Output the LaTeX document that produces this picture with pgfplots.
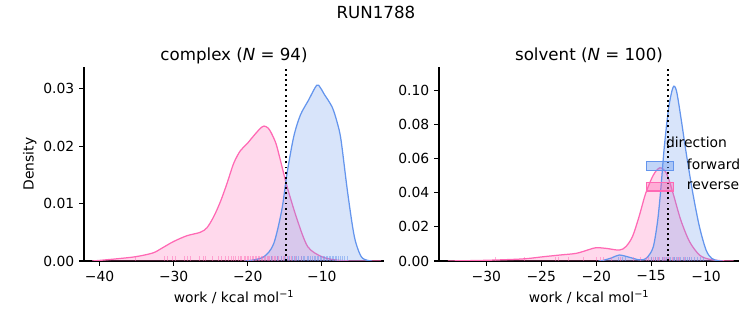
\documentclass[border=0pt]{standalone}
\usepackage{fontspec}
\setmainfont{DejaVu Sans}
\usepackage{pgfplots}
\pgfplotsset{compat=1.18}
\definecolor{fwd}{HTML}{6495ED}
\definecolor{rev}{HTML}{FF69B4}
\pgfplotsset{
  kdeax/.style={
    scale only axis, width=216pt, height=139.7pt,
    axis x line*=bottom, axis y line*=left,
    axis line style={-, line width=0.8pt, black},
    tick align=outside, major tick length=3.5pt,
    every tick/.style={black, line width=0.8pt},
    tick label style={font=\fontsize{10}{12}\selectfont},
    label style={font=\fontsize{10}{12}\selectfont},
    title style={font=\fontsize{12}{14}\selectfont, at={(0.5,1)}, anchor=base, yshift=-1pt},
    xlabel={work / kcal mol\textsuperscript{−1}},
    ymin=0,
  },
  rugrev/.style={ycomb, rev, line width=0.7pt, opacity=0.5, forget plot, mark=none},
  rugfwd/.style={ycomb, fwd, line width=0.7pt, opacity=0.5, forget plot, mark=none},
}
\begin{document}
\begin{tikzpicture}
\useasboundingbox (0,0) rectangle (542.16pt,234pt);
\node[font=\fontsize{12}{14}\selectfont, anchor=base] at (270.7pt,220.5pt) {RUN1788};

% ---------------- complex ----------------
\begin{axis}[kdeax, at={(60.5pt,46.1pt)}, anchor=south west,
  xmin=-42.1, xmax=-1.6, ymax=0.0338,
  xtick={-40,-30,-20,-10}, xticklabels={−40,−30,−20,−10},
  ytick={0,0.01,0.02,0.03}, yticklabels={0.00,0.01,0.02,0.03},
  scaled y ticks=false,
  ylabel={Density}, ylabel shift=-2pt,
  title={complex (\textit{N} = 94)},
]
\addplot[draw=none, fill=rev, fill opacity=0.25, smooth, forget plot] coordinates {
(-41,0) (-40,0.0001) (-37.5,0.0004) (-35.1,0.00075) (-32.8,0.0014) (-31.5,0.0023) (-30,0.0034) (-28.2,0.0044) (-26.4,0.005) (-25.5,0.0058) (-24.6,0.0077) (-23.7,0.0103) (-22.8,0.0135) (-21.9,0.0170) (-21.0,0.0192) (-20.1,0.0204) (-19.2,0.0218) (-18.3,0.0231) (-17.8,0.0235) (-17.3,0.0232) (-16.9,0.0225) (-16.2,0.0205) (-15.6,0.0176) (-14.7,0.0130) (-13.3,0.0071) (-11.9,0.0025) (-10.1,0.0008) (-8.3,0.0002) (-6,0) (-2,0)};
\addplot[rev, line width=0.9pt, smooth, forget plot] coordinates {
(-41,0) (-40,0.0001) (-37.5,0.0004) (-35.1,0.00075) (-32.8,0.0014) (-31.5,0.0023) (-30,0.0034) (-28.2,0.0044) (-26.4,0.005) (-25.5,0.0058) (-24.6,0.0077) (-23.7,0.0103) (-22.8,0.0135) (-21.9,0.0170) (-21.0,0.0192) (-20.1,0.0204) (-19.2,0.0218) (-18.3,0.0231) (-17.8,0.0235) (-17.3,0.0232) (-16.9,0.0225) (-16.2,0.0205) (-15.6,0.0176) (-14.7,0.0130) (-13.3,0.0071) (-11.9,0.0025) (-10.1,0.0008) (-8.3,0.0002) (-6,0) (-2,0)};
\addplot[draw=none, fill=fwd, fill opacity=0.25, smooth, forget plot] coordinates {
(-20.5,0) (-19.6,0.0001) (-17.8,0.00075) (-16.5,0.003) (-15.4,0.0089) (-14.7,0.0152) (-13.8,0.0216) (-12.9,0.0254) (-11.8,0.028) (-10.7,0.0306) (-10.2,0.0302) (-9.7,0.0291) (-8.6,0.0268) (-7.9,0.024) (-7.4,0.021) (-6.5,0.0118) (-5.6,0.0042) (-4.7,0.0008) (-3.8,0.0001) (-3.2,0)};
\addplot[fwd, line width=0.9pt, smooth, forget plot] coordinates {
(-20.5,0) (-19.6,0.0001) (-17.8,0.00075) (-16.5,0.003) (-15.4,0.0089) (-14.7,0.0152) (-13.8,0.0216) (-12.9,0.0254) (-11.8,0.028) (-10.7,0.0306) (-10.2,0.0302) (-9.7,0.0291) (-8.6,0.0268) (-7.9,0.024) (-7.4,0.021) (-6.5,0.0118) (-5.6,0.0042) (-4.7,0.0008) (-3.8,0.0001) (-3.2,0)};
\addplot[rugrev] coordinates {
(-35.1,0.0008) (-31.3,0.0008) (-30.8,0.0008) (-30.1,0.0008) (-29.7,0.0008) (-28.6,0.0008) (-28.2,0.0008) (-27.7,0.0008) (-26.5,0.0008) (-26.0,0.0008) (-25.7,0.0008) (-24.8,0.0008) (-23.9,0.0008) (-23.5,0.0008) (-23.0,0.0008) (-22.6,0.0008) (-22.2,0.0008) (-21.9,0.0008) (-21.6,0.0008) (-21.3,0.0008) (-21.0,0.0008) (-20.8,0.0008) (-20.5,0.0008) (-20.3,0.0008) (-20.1,0.0008) (-19.9,0.0008) (-19.6,0.0008) (-19.4,0.0008) (-19.2,0.0008) (-19.0,0.0008) (-18.8,0.0008) (-18.6,0.0008) (-18.4,0.0008) (-18.2,0.0008) (-18.0,0.0008) (-17.8,0.0008) (-17.6,0.0008) (-17.4,0.0008) (-17.2,0.0008) (-17.0,0.0008) (-16.8,0.0008) (-16.6,0.0008) (-16.4,0.0008) (-16.2,0.0008) (-16.0,0.0008) (-15.8,0.0008) (-15.5,0.0008) (-15.2,0.0008) (-14.9,0.0008) (-14.5,0.0008) (-14.1,0.0008) (-13.6,0.0008) (-12.8,0.0008)};
\addplot[rugfwd] coordinates {
(-16.8,0.0008) (-16.0,0.0008) (-15.5,0.0008) (-15.0,0.0008) (-14.6,0.0008) (-14.3,0.0008) (-14.0,0.0008) (-13.7,0.0008) (-13.4,0.0008) (-13.1,0.0008) (-12.8,0.0008) (-12.5,0.0008) (-12.3,0.0008) (-12.0,0.0008) (-11.8,0.0008) (-11.5,0.0008) (-11.3,0.0008) (-11.0,0.0008) (-10.8,0.0008) (-10.6,0.0008) (-10.4,0.0008) (-10.2,0.0008) (-10.0,0.0008) (-9.8,0.0008) (-9.6,0.0008) (-9.4,0.0008) (-9.2,0.0008) (-9.0,0.0008) (-8.8,0.0008) (-8.6,0.0008) (-8.4,0.0008) (-8.2,0.0008) (-8.0,0.0008) (-7.8,0.0008) (-7.5,0.0008) (-7.2,0.0008) (-6.9,0.0008) (-6.5,0.0008)};
\addplot[black, line width=1.3pt, dash pattern=on 1.4pt off 2.3pt, forget plot] coordinates {(-14.85,0) (-14.85,0.0338)};
\end{axis}

% ---------------- solvent ----------------
\begin{axis}[kdeax, at={(316.1pt,46.1pt)}, anchor=south west,
  xmin=-34.3, xmax=-7.0, ymax=0.1139,
  xtick={-30,-25,-20,-15,-10}, xticklabels={−30,−25,−20,−15,−10},
  ytick={0,0.02,0.04,0.06,0.08,0.10}, yticklabels={0.00,0.02,0.04,0.06,0.08,0.10},
  scaled y ticks=false,
  title={solvent (\textit{N} = 100)},
  legend style={draw=none, fill=none, at={(rel axis cs:0.69,0.655)}, anchor=north west,
    font=\fontsize{10}{12}\selectfont, row sep=3pt, inner sep=0pt,
    /tikz/every odd column/.append style={column sep=7pt}},
  legend cell align=left,
  legend image code/.code={\draw[#1] (0pt,-3.2pt) rectangle (19.4pt,3.2pt);},
]
\addlegendimage{empty legend}
\addlegendentry{\hspace*{-15pt}direction}
\addlegendimage{draw=fwd, fill=fwd, fill opacity=0.4, line width=0.8pt}
\addlegendentry{forward}
\addlegendimage{draw=rev, fill=rev, fill opacity=0.4, line width=0.8pt}
\addlegendentry{reverse}
\addplot[draw=none, fill=rev, fill opacity=0.25, smooth, forget plot] coordinates {
(-33.5,0) (-30,0.0004) (-26.7,0.0012) (-24.8,0.0025) (-23.3,0.0035) (-21.8,0.0045) (-20.6,0.0068) (-20,0.0078) (-19.1,0.0074) (-17.9,0.0064) (-17.3,0.0084) (-16.7,0.0143) (-16.1,0.026) (-15.5,0.0396) (-14.8,0.0504) (-14.2,0.0547) (-13.6,0.0514) (-13.0,0.0396) (-12.3,0.024) (-11.5,0.0113) (-10.6,0.0035) (-9.7,0.001) (-8.5,0.0001) (-7.5,0)};
\addplot[rev, line width=0.9pt, smooth, forget plot] coordinates {
(-33.5,0) (-30,0.0004) (-26.7,0.0012) (-24.8,0.0025) (-23.3,0.0035) (-21.8,0.0045) (-20.6,0.0068) (-20,0.0078) (-19.1,0.0074) (-17.9,0.0064) (-17.3,0.0084) (-16.7,0.0143) (-16.1,0.026) (-15.5,0.0396) (-14.8,0.0504) (-14.2,0.0547) (-13.6,0.0514) (-13.0,0.0396) (-12.3,0.024) (-11.5,0.0113) (-10.6,0.0035) (-9.7,0.001) (-8.5,0.0001) (-7.5,0)};
\addplot[draw=none, fill=fwd, fill opacity=0.25, smooth, forget plot] coordinates {
(-19.8,0) (-19.4,0.0003) (-18.6,0.0018) (-17.9,0.0035) (-17.0,0.0022) (-16.2,0.0008) (-15.7,0.0008) (-15.3,0.0025) (-14.8,0.0084) (-14.4,0.024) (-14.1,0.0436) (-13.8,0.067) (-13.4,0.090) (-13.0,0.102) (-12.7,0.100) (-12.3,0.0846) (-11.8,0.063) (-11.2,0.0396) (-10.6,0.020) (-10.0,0.0064) (-9.5,0.0016) (-8.9,0.0001) (-8.5,0)};
\addplot[fwd, line width=0.9pt, smooth, forget plot] coordinates {
(-19.8,0) (-19.4,0.0003) (-18.6,0.0018) (-17.9,0.0035) (-17.0,0.0022) (-16.2,0.0008) (-15.7,0.0008) (-15.3,0.0025) (-14.8,0.0084) (-14.4,0.024) (-14.1,0.0436) (-13.8,0.067) (-13.4,0.090) (-13.0,0.102) (-12.7,0.100) (-12.3,0.0846) (-11.8,0.063) (-11.2,0.0396) (-10.6,0.020) (-10.0,0.0064) (-9.5,0.0016) (-8.9,0.0001) (-8.5,0)};
\addplot[rugrev] coordinates {
(-29.2,0.0026) (-26.5,0.0026) (-23.7,0.0026) (-23.4,0.0026) (-22.5,0.0026) (-21.2,0.0026) (-20.0,0.0026) (-19.6,0.0026) (-19.3,0.0026) (-18.6,0.0026) (-17.8,0.0026) (-16.6,0.0026) (-16.0,0.0026) (-15.4,0.0026) (-15.2,0.0026) (-15.0,0.0026) (-14.8,0.0026) (-14.6,0.0026) (-14.4,0.0026) (-14.2,0.0026) (-14.0,0.0026) (-13.9,0.0026) (-13.7,0.0026) (-13.5,0.0026) (-13.3,0.0026) (-13.1,0.0026) (-12.9,0.0026) (-12.6,0.0026) (-12.4,0.0026) (-12.0,0.0026) (-11.5,0.0026)};
\addplot[rugfwd] coordinates {
(-18.0,0.0026) (-17.6,0.0026) (-17.3,0.0026) (-15.0,0.0026) (-14.6,0.0026) (-14.3,0.0026) (-14.0,0.0026) (-13.8,0.0026) (-13.6,0.0026) (-13.4,0.0026) (-13.2,0.0026) (-13.0,0.0026) (-12.9,0.0026) (-12.7,0.0026) (-12.5,0.0026) (-12.3,0.0026) (-12.1,0.0026) (-11.9,0.0026) (-11.7,0.0026) (-11.5,0.0026) (-11.3,0.0026) (-11.1,0.0026) (-10.8,0.0026) (-10.5,0.0026) (-10.2,0.0026)};
\addplot[black, line width=1.3pt, dash pattern=on 1.4pt off 2.3pt, forget plot] coordinates {(-13.43,0) (-13.43,0.1139)};
\end{axis}
\end{tikzpicture}
\end{document}
